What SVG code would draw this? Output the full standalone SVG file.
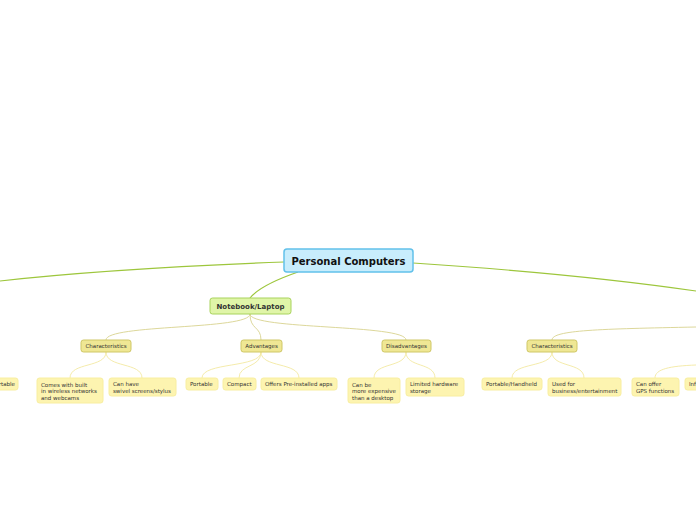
<svg xmlns="http://www.w3.org/2000/svg" width="696" height="520" viewBox="0 0 696 520">
<style>
text{font-family:"DejaVu Sans",Verdana,sans-serif;fill:#333}
.root rect{fill:#c8edfc;stroke:#62c1ea;stroke-width:1.5}
.root text{font-size:10px;font-weight:bold;fill:#111;text-anchor:middle}
.l1 rect{fill:#e0f5a8;stroke:#a8d35c;stroke-width:1}
.l1 text{font-size:7px;font-weight:bold;text-anchor:middle}
.l2 rect{fill:#efe794;stroke:#cfc766;stroke-width:1}
.l2 text{font-size:5.5px;text-anchor:middle}
.leaf rect{fill:#fdf4b0;stroke:#f8eea0;stroke-width:1}
.leaf text{font-size:5.5px}
.c0{fill:none;stroke:#9dc63c;stroke-width:1.2}
.c1{fill:none;stroke:#d8d38f;stroke-width:0.9}
.c2{fill:none;stroke:#f3e9a2;stroke-width:0.9}
</style>
<g id="connectors">
<path class="c0" d="M284,262 C180,266 80,272 0,281"/>
<path class="c0" d="M413,263 C520,270 620,280 696,291"/>
<path class="c0" d="M298,272 C275,280 258,288 250,298"/>
<path class="c1" d="M250,314 C250,330 106,324 106,340"/>
<path class="c1" d="M250,314 C250,330 261,326 261,340"/>
<path class="c1" d="M250,314 C250,330 406,324 406,340"/>
<path class="c1" d="M696,327 C600,329 552,330 552,340"/>
<path class="c2" d="M106,352 C106,368 70,362 70,378"/>
<path class="c2" d="M106,352 C106,368 142,362 142,378"/>
<path class="c2" d="M261,352 C261,368 202,362 202,378"/>
<path class="c2" d="M261,352 C261,368 239,364 239,378"/>
<path class="c2" d="M261,352 C261,368 299,362 299,378"/>
<path class="c2" d="M406,352 C406,368 374,362 374,378"/>
<path class="c2" d="M406,352 C406,368 435,362 435,378"/>
<path class="c2" d="M552,352 C552,368 512,362 512,378"/>
<path class="c2" d="M552,352 C552,368 584,362 584,378"/>
<path class="c2" d="M696,365 C670,366 655,369 655,378"/>
</g>
<g id="root" class="root"><rect x="284" y="249" width="129" height="23" rx="3"/><text x="348.5" y="264.5">Personal Computers</text></g>
<g id="notebook" class="l1"><rect x="210" y="298" width="81" height="16" rx="2.5"/><text x="250.5" y="308.5">Notebook/Laptop</text></g>
<g id="char1" class="l2"><rect x="81" y="340" width="50" height="12" rx="2.5"/><text x="106" y="348">Characteristics</text></g>
<g id="adv" class="l2"><rect x="241" y="340" width="41" height="12" rx="2.5"/><text x="261.5" y="348">Advantages</text></g>
<g id="disadv" class="l2"><rect x="382" y="340" width="49" height="12" rx="2.5"/><text x="406.5" y="348">Disadvantages</text></g>
<g id="char2" class="l2"><rect x="527" y="340" width="50" height="12" rx="2.5"/><text x="552" y="348">Characteristics</text></g>
<g id="leaf-portable0" class="leaf"><rect x="-20" y="378" width="38" height="12" rx="2.5"/><text x="15" y="386" text-anchor="end">Portable</text></g>
<g id="leaf-comes" class="leaf"><rect x="37" y="378" width="66" height="25" rx="2.5"/><text x="41" y="386.5">Comes with built</text><text x="41" y="393">in wireless networks</text><text x="41" y="399.5">and webcams</text></g>
<g id="leaf-swivel" class="leaf"><rect x="109" y="378" width="67" height="18" rx="2.5"/><text x="113" y="386">Can have</text><text x="113" y="392.5">swivel screens/stylus</text></g>
<g id="leaf-portable" class="leaf"><rect x="186" y="378" width="32" height="12" rx="2.5"/><text x="190" y="386">Portable</text></g>
<g id="leaf-compact" class="leaf"><rect x="223" y="378" width="33" height="12" rx="2.5"/><text x="227" y="386">Compact</text></g>
<g id="leaf-apps" class="leaf"><rect x="261" y="378" width="76" height="12" rx="2.5"/><text x="265" y="386">Offers Pre-installed apps</text></g>
<g id="leaf-expensive" class="leaf"><rect x="348" y="378" width="52" height="25" rx="2.5"/><text x="352" y="386.5">Can be</text><text x="352" y="393">more expensive</text><text x="352" y="399.5">than a desktop</text></g>
<g id="leaf-storage" class="leaf"><rect x="406" y="378" width="58" height="18" rx="2.5"/><text x="410" y="386">Limited hardware</text><text x="410" y="392.5">storage</text></g>
<g id="leaf-handheld" class="leaf"><rect x="482" y="378" width="60" height="12" rx="2.5"/><text x="486" y="386">Portable/Handheld</text></g>
<g id="leaf-business" class="leaf"><rect x="548" y="378" width="73" height="18" rx="2.5"/><text x="552" y="386">Used for</text><text x="552" y="392.5">business/entertainment</text></g>
<g id="leaf-gps" class="leaf"><rect x="632" y="378" width="47" height="18" rx="2.5"/><text x="636" y="386">Can offer</text><text x="636" y="392.5">GPS functions</text></g>
<g id="leaf-inf" class="leaf"><rect x="685" y="378" width="40" height="12" rx="2.5"/><text x="689" y="386">Inf</text></g>
</svg>
